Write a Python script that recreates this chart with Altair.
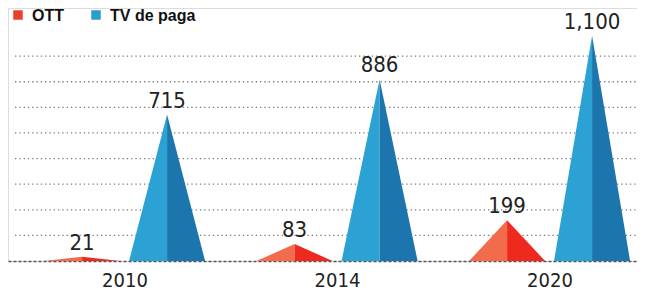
import altair as alt
import pandas as pd

# ---- data ----
years = ["2010", "2014", "2020"]
series = ["OTT", "TV de paga"]
ott = [21, 83, 199]
tv_paga = [715, 886, 1100]
grid_values = [125, 250, 375, 500, 625, 750, 875, 1000]

# ---- styling ----
shade_colors = {
    "OTT": ("#f26b4c", "#ee2a1f"),
    "TV de paga": ("#2ba2d3", "#1c76ad"),
}
legend_colors = {"OTT": "#e9402c", "TV de paga": "#2a9dcf"}
offsets = {"OTT": -0.202, "TV de paga": 0.198}
HW = 0.179
NUM_FONT = "DejaVu Sans Condensed, Liberation Sans Narrow, Roboto, sans-serif"

rows, labels = [], []
for s, vals in zip(series, [ott, tv_paga]):
    for i, (yr, v) in enumerate(zip(years, vals)):
        xc = i + offsets[s]
        left, right = f"{s}-{yr}-L", f"{s}-{yr}-R"
        rows += [
            {"x": xc - HW, "v": 0, "piece": left, "shade": f"{s} L"},
            {"x": xc, "v": v, "piece": left, "shade": f"{s} L"},
            {"x": xc, "v": v, "piece": right, "shade": f"{s} R"},
            {"x": xc + HW, "v": 0, "piece": right, "shade": f"{s} R"},
        ]
        labels.append({"x": xc, "v": v, "label": format(v, ",")})

tri = pd.DataFrame(rows)
lab = pd.DataFrame(labels)
yr_df = pd.DataFrame({"x": list(range(len(years))), "v": [0] * len(years), "year": years})
grid_df = pd.DataFrame({"v": grid_values})

shade_domain, shade_range = [], []
for s in series:
    shade_domain += [f"{s} L", f"{s} R"]
    shade_range += list(shade_colors[s])

xscale = alt.Scale(domain=[-0.5506, 2.4094], nice=False, zero=False)
yscale = alt.Scale(domain=[0, 1235], nice=False)

grid = alt.Chart(grid_df).mark_rule(
    color="#7a7a7a", strokeWidth=1.3, strokeDash=[1.3, 3]
).encode(y=alt.Y("v:Q", scale=yscale, axis=None), x=alt.value(7), x2=alt.value(629))

areas = alt.Chart(tri).mark_area(interpolate="linear").encode(
    x=alt.X("x:Q", scale=xscale,
            axis=alt.Axis(title=None, labels=False, ticks=False, grid=False,
                          domain=True, domainDash=[3, 2], domainColor="#555555",
                          domainWidth=1.5)),
    y=alt.Y("v:Q", scale=yscale, stack=None, axis=None),
    color=alt.Color("shade:N", scale=alt.Scale(domain=shade_domain, range=shade_range),
                    legend=None),
    detail="piece:N",
)

value_text = alt.Chart(lab).mark_text(
    baseline="alphabetic", dy=-7, fontSize=22, font=NUM_FONT, color="#222222"
).encode(x=alt.X("x:Q", scale=xscale), y=alt.Y("v:Q", scale=yscale), text="label:N")

year_text = alt.Chart(yr_df).mark_text(
    baseline="alphabetic", dy=26, fontSize=20, font=NUM_FONT, color="#222222"
).encode(x=alt.X("x:Q", scale=xscale), y=alt.Y("v:Q", scale=yscale), text="year:N")

legend_layers = []
legend_pos = {"OTT": (10, 24), "TV de paga": (88, 102)}
for s in series:
    sx, tx = legend_pos[s]
    legend_layers.append(
        alt.Chart(yr_df.head(1)).mark_square(size=90, opacity=1, color=legend_colors[s])
        .encode(x=alt.value(sx), y=alt.value(7))
    )
    legend_layers.append(
        alt.Chart(yr_df.head(1)).mark_text(align="left", baseline="alphabetic",
                                           fontSize=16, fontWeight="bold",
                                           font="Liberation Sans, Arial, sans-serif",
                                           color="#111111")
        .encode(x=alt.value(tx), y=alt.value(13), text=alt.value(s))
    )

chart = alt.layer(grid, areas, value_text, year_text, *legend_layers).properties(
    width=629, height=253,
    autosize=alt.AutoSizeParams(type="none"),
    padding={"left": 0, "top": 0, "right": 0, "bottom": 32},
).configure_view(stroke=None).configure(background="white")

chart.save("out.html", embed_options={"renderer": "svg", "actions": False})
